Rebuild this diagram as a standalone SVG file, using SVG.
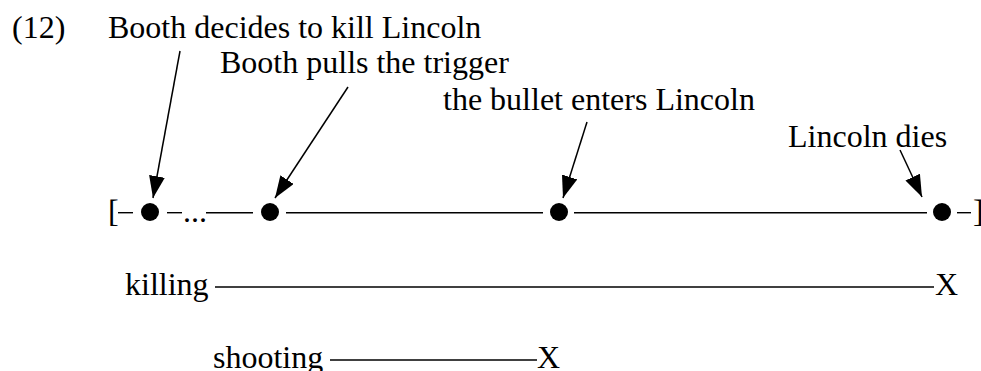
<svg xmlns="http://www.w3.org/2000/svg" width="981" height="371" viewBox="0 0 981 371">
<style>
text{font-family:"Liberation Serif","Times New Roman",serif;font-size:32px;fill:#000}
.ln{stroke:#000;stroke-width:1.4;fill:none}
.ar{stroke:#000;stroke-width:1.5;fill:none;marker-end:url(#ah)}
.dot{fill:#000}
</style>
<defs>
<marker id="ah" markerUnits="userSpaceOnUse" markerWidth="24" markerHeight="18" refX="22" refY="8" orient="auto">
<path d="M0,0 L22,8 L0,16 z" fill="#000"/>
</marker>
</defs>
<rect width="981" height="371" fill="#fff"/>
<text x="12" y="38">(12)</text>
<g id="ev1">
<text x="108" y="38">Booth decides to kill Lincoln</text>
<circle class="dot" cx="150" cy="212" r="9"/>
</g>
<g id="ev2">
<text x="220" y="73">Booth pulls the trigger</text>
<circle class="dot" cx="270" cy="212" r="9"/>
</g>
<g id="ev3">
<text x="443" y="110">the bullet enters Lincoln</text>
<circle class="dot" cx="559" cy="212" r="9"/>
</g>
<g id="ev4">
<text x="788" y="147">Lincoln dies</text>
<circle class="dot" cx="942" cy="212" r="9"/>
</g>
<g id="timeline">
<text x="108" y="222">[</text>
<line class="ln" x1="118" y1="212.7" x2="133" y2="212.7"/>
<line class="ln" x1="167" y1="212.7" x2="182" y2="212.7"/>
<text x="183" y="222">...</text>
<line class="ln" x1="206" y1="212.7" x2="253" y2="212.7"/>
<line class="ln" x1="286" y1="212.7" x2="543" y2="212.7"/>
<line class="ln" x1="574" y1="212.7" x2="927" y2="212.7"/>
<line class="ln" x1="957" y1="212.7" x2="971" y2="212.7"/>
<text x="973" y="222">]</text>
</g>
<g id="killing">
<text x="125" y="295">killing</text>
<line class="ln" x1="215" y1="287" x2="934" y2="287"/>
<text x="935" y="295">X</text>
</g>
<g id="shooting">
<text x="213" y="368">shooting</text>
<line class="ln" x1="330" y1="360" x2="537" y2="360"/>
<text x="537" y="368">X</text>
</g>
<g id="connectors">
<line class="ar" x1="180" y1="51" x2="153" y2="198"/>
<line class="ar" x1="348" y1="87" x2="275" y2="198"/>
<line class="ar" x1="587" y1="122" x2="563" y2="198"/>
<line class="ar" x1="900" y1="150" x2="922" y2="197"/>
</g>
</svg>
